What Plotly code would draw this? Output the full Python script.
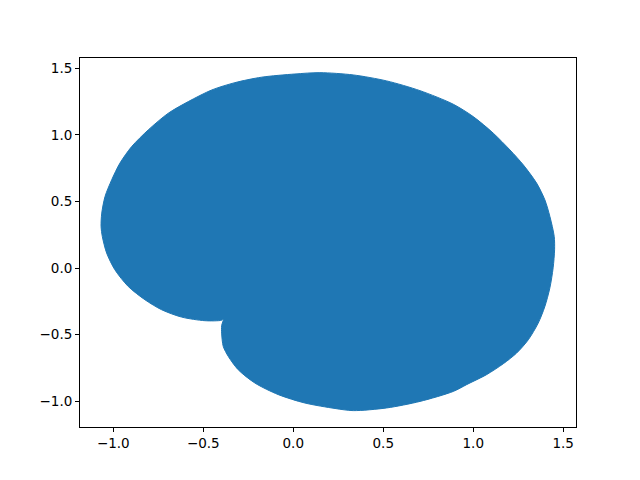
import plotly.graph_objects as go

# Boundary of the filled shape (data coordinates), traced in order
x_pts = [-0.388, -0.398, -0.398, -0.389, -0.361, -0.306, -0.213, -0.083, 0.065, 0.232,
         0.333, 0.519, 0.704, 0.889, 0.963, 1.074, 1.167, 1.241, 1.306, 1.361,
         1.398, 1.426, 1.444, 1.452, 1.450, 1.426, 1.398, 1.352, 1.278, 1.204,
         1.111, 1.000, 0.889, 0.704, 0.519, 0.333, 0.148, 0.009, -0.176, -0.324,
         -0.453, -0.583, -0.694, -0.806, -0.898, -0.963, -1.009, -1.046, -1.064, -1.068,
         -1.061, -1.037, -0.991, -0.917, -0.824, -0.731, -0.620, -0.491, -0.399]
y_pts = [-0.383, -0.433, -0.488, -0.588, -0.663, -0.763, -0.863, -0.950, -1.013, -1.054,
         -1.070, -1.050, -1.001, -0.926, -0.875, -0.800, -0.718, -0.638, -0.538, -0.413,
         -0.288, -0.148, 0.002, 0.137, 0.237, 0.387, 0.512, 0.638, 0.775, 0.887,
         1.013, 1.137, 1.230, 1.332, 1.405, 1.450, 1.467, 1.457, 1.433, 1.392,
         1.337, 1.250, 1.163, 1.037, 0.912, 0.788, 0.662, 0.537, 0.413, 0.312,
         0.237, 0.113, -0.013, -0.138, -0.238, -0.313, -0.368, -0.395, -0.392]

x_ticks = [-1.0, -0.5, 0.0, 0.5, 1.0, 1.5]
x_tick_labels = ["−1.0", "−0.5", "0.0", "0.5", "1.0", "1.5"]
y_ticks = [-1.0, -0.5, 0.0, 0.5, 1.0, 1.5]
y_tick_labels = ["−1.0", "−0.5", "0.0", "0.5", "1.0", "1.5"]

color = "#1f77b4"

fig = go.Figure()
fig.add_trace(go.Scatter(
    x=x_pts + [x_pts[0]], y=y_pts + [y_pts[0]],
    mode="lines", fill="toself", fillcolor=color,
    line=dict(color=color, width=1, shape="spline", smoothing=0.8),
    hoverinfo="skip", showlegend=False,
))

axis_common = dict(
    showgrid=False, zeroline=False, showline=True, linecolor="black", linewidth=1,
    mirror=True, ticks="outside", ticklen=4, tickcolor="black", tickwidth=1,
    tickfont=dict(family="DejaVu Sans", size=13.5, color="black"),
)
fig.update_xaxes(range=[-1.185, 1.571], tickvals=x_ticks, ticktext=x_tick_labels, **axis_common)
fig.update_yaxes(range=[-1.193, 1.577], tickvals=y_ticks, ticktext=y_tick_labels, **axis_common)

fig.update_layout(
    width=640, height=480,
    margin=dict(l=72, r=72, t=50, b=61, pad=0),
    paper_bgcolor="white", plot_bgcolor="white",
    showlegend=False,
)

fig.write_html("out.html")
